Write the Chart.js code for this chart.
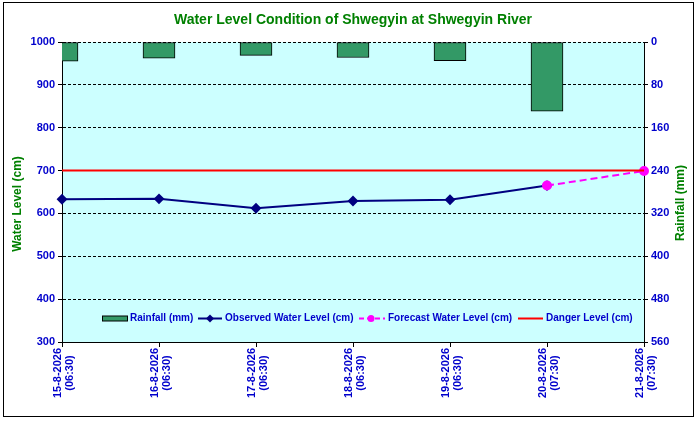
<!DOCTYPE html>
<html>
<head>
<meta charset="utf-8">
<script src="https://cdn.jsdelivr.net/npm/chart.js@4.4.1/dist/chart.umd.min.js"></script>
<style>
  html, body { margin: 0; padding: 0; background: #fff; }
  #wrap { width: 700px; height: 421px; position: relative; }
</style>
</head>
<body>
<div id="wrap"><canvas id="myChart" width="700" height="421"></canvas></div>
<script>
// chart data
const dates = ['15-8-2026', '16-8-2026', '17-8-2026', '18-8-2026', '19-8-2026', '20-8-2026', '21-8-2026'];
const times = ['(06:30)', '(06:30)', '(06:30)', '(06:30)', '(06:30)', '(07:30)', '(07:30)'];
const rainfall = [36, 30, 25, 29, 35, 129, null];
const observed = [633, 634, 612, 629, 632, 665, null];
const forecast = [null, null, null, null, null, 665, 699];
const danger = [700, 700, 700, 700, 700, 700, 700];
const levelTicks = [300, 1000, 100];
const rainTicks = [0, 560, 80];

const titleText = 'Water Level Condition of Shwegyin at Shwegyin River';
const blue = '#0000cc';
const green = '#008000';
const font = 'Arial, "Liberation Sans", sans-serif';

// page frame, title, axis titles, legend and x labels
const decor = {
    id: 'decor',
    beforeDraw(chart) {
        const c = chart.ctx;
        const a = chart.chartArea;
        c.save();
        c.fillStyle = '#fff';
        c.fillRect(0, 0, chart.width, chart.height);
        c.strokeStyle = '#000';
        c.lineWidth = 1;
        c.strokeRect(3.5, 2.5, 690, 414);
        c.fillStyle = '#ccffff';
        c.fillRect(a.left, a.top, a.right - a.left, a.bottom - a.top);
        c.restore();
    },
    afterDraw(chart) {
        const c = chart.ctx;
        const a = chart.chartArea;
        c.save();
        c.fillStyle = green;
        c.font = 'bold 14px ' + font;
        c.textAlign = 'center';
        c.textBaseline = 'middle';
        c.fillText(titleText, 353, 20);

        c.font = 'bold 12px ' + font;
        c.save();
        c.translate(18, 204);
        c.rotate(-Math.PI / 2);
        c.fillText('Water Level (cm)', 0, 0);
        c.restore();
        c.save();
        c.translate(681, 203);
        c.rotate(-Math.PI / 2);
        c.fillText('Rainfall (mm)', 0, 0);
        c.restore();

        // x labels, two centred lines turned upright
        const xs = chart.scales.x;
        c.fillStyle = blue;
        c.font = 'bold 11px ' + font;
        dates.forEach((d, i) => {
            const px = xs.getPixelForValue(i);
            c.save();
            c.translate(px + 1.5, a.bottom + 31);
            c.rotate(-Math.PI / 2);
            c.fillText(d, 0, -6);
            c.fillText(times[i], 0, 6);
            c.restore();
        });

        // legend inside plot
        const ly = 318.5;
        c.font = 'bold 10px ' + font;
        c.textAlign = 'left';
        c.lineWidth = 1;

        let x = 102;
        c.fillStyle = '#339966';
        c.fillRect(x, ly - 2.5, 25, 5);
        c.strokeStyle = '#000';
        c.strokeRect(x + 0.5, ly - 2.5, 25, 5);
        c.fillStyle = blue;
        c.fillText('Rainfall (mm)', x + 28, ly);

        x = 198;
        c.strokeStyle = '#000080';
        c.lineWidth = 2;
        c.beginPath(); c.moveTo(x, ly); c.lineTo(x + 24, ly); c.stroke();
        c.fillStyle = '#000080';
        c.beginPath();
        c.moveTo(x + 12, ly - 4); c.lineTo(x + 16, ly); c.lineTo(x + 12, ly + 4); c.lineTo(x + 8, ly);
        c.closePath(); c.fill();
        c.fillStyle = blue;
        c.fillText('Observed Water Level (cm)', x + 27, ly);

        x = 359;
        c.strokeStyle = '#ff00ff';
        c.setLineDash([5, 3]);
        c.beginPath(); c.moveTo(x, ly); c.lineTo(x + 26, ly); c.stroke();
        c.setLineDash([]);
        c.fillStyle = '#ff00ff';
        c.beginPath(); c.arc(x + 12, ly, 3.5, 0, Math.PI * 2); c.fill();
        c.fillStyle = blue;
        c.fillText('Forecast Water Level (cm)', x + 29, ly);

        x = 518;
        c.strokeStyle = '#ff0000';
        c.beginPath(); c.moveTo(x, ly); c.lineTo(x + 25, ly); c.stroke();
        c.fillStyle = blue;
        c.fillText('Danger Level (cm)', x + 28, ly);
        c.restore();
    }
};

const ctx = document.getElementById('myChart').getContext('2d');
const myChart = new Chart(ctx, {
    data: {
        labels: dates,
        datasets: [{
            type: 'line',
            label: 'Danger Level (cm)',
            data: danger,
            yAxisID: 'y',
            borderColor: '#ff0000',
            borderWidth: 2,
            pointRadius: 0,
            order: 1
        }, {
            type: 'line',
            label: 'Forecast Water Level (cm)',
            data: forecast,
            yAxisID: 'y',
            borderColor: '#ff00ff',
            backgroundColor: '#ff00ff',
            borderWidth: 2,
            borderDash: [7, 4],
            pointStyle: 'circle',
            pointRadius: 4,
            order: 2
        }, {
            type: 'line',
            label: 'Observed Water Level (cm)',
            data: observed,
            yAxisID: 'y',
            borderColor: '#000080',
            backgroundColor: '#000080',
            borderWidth: 2,
            pointStyle: 'rectRot',
            pointRadius: 4,
            order: 3
        }, {
            type: 'bar',
            label: 'Rainfall (mm)',
            data: rainfall,
            yAxisID: 'y2',
            backgroundColor: '#339966',
            borderColor: '#000',
            borderWidth: 1,
            borderSkipped: false,
            barThickness: 32,
            order: 4
        }]
    },
    options: {
        responsive: false,
        animation: false,
        layout: { padding: { top: 42, left: 0, right: 0, bottom: 0 } },
        plugins: {
            legend: { display: false },
            title: { display: false },
            tooltip: { enabled: false }
        },
        scales: {
            x: {
                offset: false,
                grid: { offset: false, drawOnChartArea: false, drawTicks: true, tickLength: 5, tickColor: '#000' },
                border: { color: '#000', width: 1 },
                ticks: { display: false },
                afterFit(s) { s.height = 79; }
            },
            y: {
                position: 'left',
                min: levelTicks[0],
                max: levelTicks[1],
                ticks: {
                    stepSize: levelTicks[2],
                    color: blue,
                    font: { family: font, size: 11, weight: 'bold' },
                    padding: 3,
                    callback: v => String(v)
                },
                grid: {
                    color: '#000',
                    lineWidth: 1,
                    tickLength: 4,
                    tickColor: '#000',
                    tickBorderDash: []
                },
                border: { color: '#000', width: 1, dash: [3, 2] },
                afterFit(s) { s.width = 62; }
            },
            y2: {
                position: 'right',
                reverse: true,
                min: rainTicks[0],
                max: rainTicks[1],
                ticks: {
                    stepSize: rainTicks[2],
                    color: blue,
                    font: { family: font, size: 11, weight: 'bold' },
                    padding: 3,
                    callback: v => String(v)
                },
                grid: { drawOnChartArea: false, tickLength: 4, tickColor: '#000' },
                border: { color: '#000', width: 1 },
                afterFit(s) { s.width = 56; }
            }
        }
    },
    plugins: [decor]
});
</script>
</body>
</html>
